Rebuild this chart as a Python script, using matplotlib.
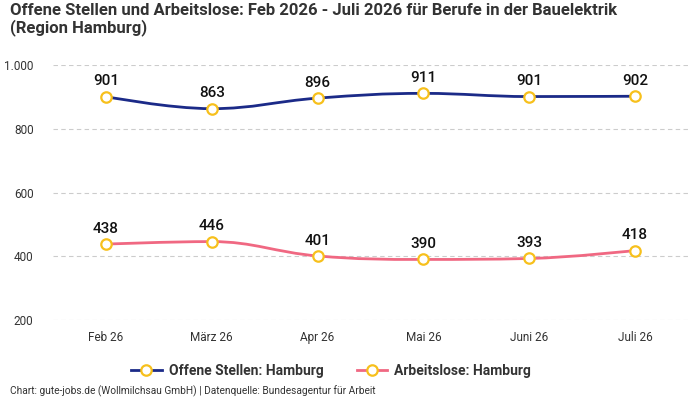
import matplotlib
matplotlib.use("Agg")
import matplotlib.pyplot as plt
from matplotlib.path import Path
from matplotlib.patches import PathPatch
from matplotlib.lines import Line2D
from matplotlib.ticker import FuncFormatter
import numpy as np

months = ["Feb 26", "März 26", "Apr 26", "Mai 26", "Juni 26", "Juli 26"]
offene_stellen = [901, 863, 896, 911, 901, 902]
arbeitslose = [438, 446, 401, 390, 393, 418]
series_names = ["Offene Stellen: Hamburg", "Arbeitslose: Hamburg"]

BLUE = "#1b2a88"
PINK = "#f06882"
GOLD = "#f7c01c"

plt.rcParams["font.family"] = ["Roboto", "DejaVu Sans"]


def spline_path(xs, ys, smoothing=1.5):
    # highcharts-style spline: bezier control points per point
    n = len(xs)
    left = [None] * n
    right = [None] * n
    denom = smoothing + 1
    for i in range(1, n - 1):
        lx, ly = xs[i - 1], ys[i - 1]
        px, py = xs[i], ys[i]
        nx, ny = xs[i + 1], ys[i + 1]
        lcx = (smoothing * px + lx) / denom
        lcy = (smoothing * py + ly) / denom
        rcx = (smoothing * px + nx) / denom
        rcy = (smoothing * py + ny) / denom
        corr = 0
        if rcx != lcx:
            corr = (rcy - lcy) * (rcx - px) / (rcx - lcx) + py - rcy
        lcy += corr
        rcy += corr
        if lcy > ly and lcy > py:
            lcy = max(ly, py)
            rcy = 2 * py - lcy
        elif lcy < ly and lcy < py:
            lcy = min(ly, py)
            rcy = 2 * py - lcy
        if rcy > ny and rcy > py:
            rcy = max(ny, py)
            lcy = 2 * py - rcy
        elif rcy < ny and rcy < py:
            rcy = min(ny, py)
            lcy = 2 * py - rcy
        left[i] = (lcx, lcy)
        right[i] = (rcx, rcy)
    verts = [(xs[0], ys[0])]
    codes = [Path.MOVETO]
    for i in range(1, n):
        c1 = right[i - 1] or (xs[i - 1], ys[i - 1])
        c2 = left[i] or (xs[i], ys[i])
        verts += [c1, c2, (xs[i], ys[i])]
        codes += [Path.CURVE4] * 3
    return Path(verts, codes)


fig = plt.figure(figsize=(7, 4), dpi=100)
ax = fig.add_axes([0.0757, 0.2, 0.907, 0.6375])

x = np.arange(len(months))
for vals, color in [(offene_stellen, BLUE), (arbeitslose, PINK)]:
    ax.add_patch(PathPatch(spline_path(list(x), vals), facecolor="none",
                           edgecolor=color, lw=2, zorder=3))
    ax.plot(x, vals, linestyle="none", marker="o", markersize=7.5,
            markerfacecolor="white", markeredgecolor=GOLD,
            markeredgewidth=1.6, zorder=4)
    for xi, v in zip(x, vals):
        ax.annotate(str(v), (xi, v), xytext=(0, 6), textcoords="offset points",
                    ha="center", va="bottom", fontsize=11, color="#111111",
                    fontweight="medium", zorder=5)

ax.set_xlim(-0.5, 5.5)
ax.set_ylim(200, 1000)
ax.set_yticks([200, 400, 600, 800, 1000])
ax.yaxis.set_major_formatter(FuncFormatter(lambda v, p: f"{int(v):,}".replace(",", ".")))
ax.set_xticks(x)
ax.set_xticklabels(months)
ax.tick_params(axis="both", length=0, labelsize=8.5, colors="#333333")
ax.tick_params(axis="x", pad=8)
ax.tick_params(axis="y", pad=14)
ax.grid(axis="y", linestyle=(0, (4, 3)), color="#cccccc", linewidth=0.8)
for s in ax.spines.values():
    s.set_visible(False)

fig.text(0.014, 0.992, "Offene Stellen und Arbeitslose: Feb 2026 - Juli 2026 für Berufe in der Bauelektrik\n(Region Hamburg)",
         ha="left", va="top", fontsize=12, fontweight="bold", color="#333333", linespacing=1.1)

handles = [Line2D([], [], color=c, lw=2, marker="o", markersize=7.5,
                  markerfacecolor="white", markeredgecolor=GOLD, markeredgewidth=1.6)
           for c in (BLUE, PINK)]
leg = fig.legend(handles, series_names, loc="center", bbox_to_anchor=(0.473, 0.072),
                 ncol=2, frameon=False, handlelength=2.2, handletextpad=0.5,
                 columnspacing=2.4, prop={"weight": "bold", "size": 10})
for t in leg.get_texts():
    t.set_color("#333333")

fig.text(0.014, 0.008, "Chart: gute-jobs.de (Wollmilchsau GmbH) | Datenquelle: Bundesagentur für Arbeit",
         ha="left", va="bottom", fontsize=7.3, color="#333333")

fig.savefig("out.png", dpi=100)
